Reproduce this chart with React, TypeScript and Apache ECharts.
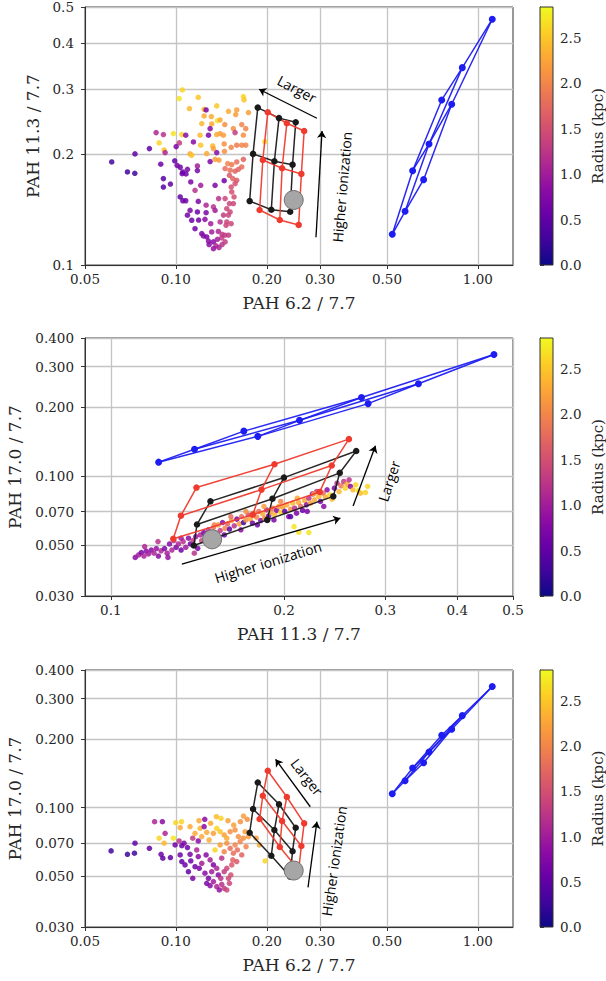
import React, { useEffect, useRef } from "react";
import * as echarts from "echarts";

// ---------- DATA ----------
const RADIUS_MAX = 2.84;
const PLASMA = ["#0d0887", "#41049d", "#6a00a8", "#8f0da4", "#b12a90", "#cc4778", "#e16462", "#f2844b", "#fca636", "#fcce25", "#f0f921"];

// model grids (rows x cols), each point = [PAH6.2/7.7, PAH11.3/7.7, PAH17.0/7.7]
const blueModel = [
  [[0.5206, 0.1211, 0.115], [0.608, 0.1801, 0.149], [0.759, 0.28, 0.207]],
  [[0.574, 0.1398, 0.131], [0.689, 0.2128, 0.175], [0.888, 0.3425, 0.2525]],
  [[0.661, 0.1703, 0.157], [0.819, 0.2727, 0.22], [1.116, 0.4633, 0.339]],
];
const blackModel = [
  [[0.1867, 0.267, 0.1287], [0.2195, 0.25, 0.1033], [0.2493, 0.2436, 0.0816]],
  [[0.1801, 0.2, 0.0985], [0.2119, 0.191, 0.0797], [0.2434, 0.187, 0.0644]],
  [[0.1755, 0.149, 0.0776], [0.207, 0.1412, 0.0615], [0.239, 0.1394, 0.0498]],
];
const redModel = [
  [[0.2015, 0.2593, 0.1449], [0.233, 0.2421, 0.1112], [0.2659, 0.2307, 0.0853]],
  [[0.194, 0.1925, 0.1126], [0.2247, 0.1828, 0.0873], [0.2603, 0.1765, 0.0679]],
  [[0.1893, 0.1409, 0.0891], [0.2208, 0.1324, 0.0672], [0.255, 0.1284, 0.0533]],
];
const observed = [0.2455, 0.15, 0.053];

// galaxy pixels: [x, y, radius (kpc)]
const pts62v113 = [
  [0.1051, 0.298, 2.6], [0.1025, 0.2824, 2.7], [0.1186, 0.2847, 2.5], [0.1673, 0.286, 2.6], [0.1681, 0.2801, 2.5],
  [0.1365, 0.2698, 2.5], [0.1109, 0.2653, 2.4], [0.124, 0.2642, 2.4], [0.1259, 0.2631, 0.7], [0.1493, 0.2609, 2.3],
  [0.159, 0.2631, 2.2], [0.1578, 0.2556, 2.2], [0.1739, 0.2588, 2.2], [0.124, 0.2534, 2.3], [0.131, 0.2524, 2.3],
  [0.1372, 0.2461, 2.7], [0.1401, 0.2472, 2.3], [0.1314, 0.2411, 2.3], [0.1218, 0.2416, 2.4], [0.1298, 0.2341, 0.8],
  [0.1452, 0.2401, 2.1], [0.1652, 0.2401, 2.0], [0.1703, 0.2341, 2.0], [0.155, 0.2341, 2.1], [0.1401, 0.227, 2.2],
  [0.1437, 0.2247, 2.2], [0.157, 0.2284, 1.3], [0.1673, 0.2247, 2.1], [0.086, 0.2284, 1.1], [0.0909, 0.2256, 1.2],
  [0.0981, 0.227, 2.7], [0.1046, 0.2256, 2.6], [0.1078, 0.2247, 0.8], [0.1202, 0.2247, 2.4], [0.1282, 0.2247, 0.7],
  [0.1365, 0.2256, 2.3], [0.088, 0.2142, 2.6], [0.1027, 0.2142, 1.3], [0.1143, 0.2155, 0.8], [0.1208, 0.2111, 2.5],
  [0.1324, 0.2102, 2.4], [0.1445, 0.2128, 2.1], [0.1524, 0.2084, 2.0], [0.159, 0.2111, 1.9], [0.1652, 0.2111, 2.0],
  [0.1703, 0.2111, 2.0], [0.0817, 0.2067, 0.5], [0.0914, 0.205, 2.5], [0.1002, 0.2093, 0.7], [0.0921, 0.2016, 1.1],
  [0.1114, 0.2, 2.3], [0.1128, 0.1983, 2.5], [0.1265, 0.2003, 2.3], [0.1331, 0.2067, 2.2], [0.1365, 0.2016, 0.8],
  [0.1448, 0.2033, 2.1], [0.0732, 0.2, 0.5], [0.0613, 0.1902, 0.3], [0.0891, 0.1875, 0.6], [0.0991, 0.1916, 0.5],
  [0.1009, 0.1863, 0.7], [0.1033, 0.184, 0.6], [0.1054, 0.1787, 0.6], [0.1092, 0.1817, 0.7], [0.1178, 0.1855, 1.0],
  [0.1178, 0.1803, 0.7], [0.1298, 0.1907, 0.7], [0.1348, 0.1933, 2.2], [0.1389, 0.1924, 2.2], [0.1485, 0.1882, 2.0],
  [0.1531, 0.1871, 1.9], [0.159, 0.1902, 1.8], [0.1652, 0.1844, 1.8], [0.1673, 0.1933, 1.7], [0.0691, 0.1787, 0.3],
  [0.0731, 0.1772, 0.3], [0.108, 0.1765, 0.6], [0.1049, 0.1768, 0.6], [0.1455, 0.1825, 1.8], [0.1512, 0.1806, 1.8],
  [0.157, 0.1795, 1.7], [0.161, 0.1817, 1.7], [0.1504, 0.175, 1.6], [0.1543, 0.1714, 1.7], [0.159, 0.1696, 1.6],
  [0.0909, 0.1714, 0.4], [0.0959, 0.1657, 0.5], [0.0909, 0.1626, 0.4], [0.112, 0.1679, 0.7], [0.1208, 0.1644, 1.0],
  [0.1348, 0.1644, 0.7], [0.1445, 0.1692, 0.6], [0.1524, 0.1626, 1.5], [0.157, 0.1661, 1.5], [0.1157, 0.1594, 1.2],
  [0.1531, 0.1577, 1.5], [0.1558, 0.1529, 1.5], [0.1033, 0.1529, 0.5], [0.1054, 0.1493, 0.6], [0.1078, 0.1493, 0.6],
  [0.1186, 0.1487, 0.7], [0.1259, 0.1452, 1.1], [0.1331, 0.1438, 1.2], [0.1385, 0.1513, 1.2], [0.1455, 0.1513, 1.4],
  [0.1504, 0.1467, 1.4], [0.155, 0.1467, 1.4], [0.1474, 0.1421, 1.4], [0.1512, 0.1392, 1.4], [0.1493, 0.1365, 1.4],
  [0.1114, 0.1406, 0.7], [0.1092, 0.1364, 0.6], [0.1178, 0.1392, 0.6], [0.1259, 0.1386, 0.7], [0.1348, 0.1406, 1.0],
  [0.1437, 0.1365, 1.3], [0.1401, 0.1308, 1.2], [0.1474, 0.1308, 1.4], [0.1466, 0.1281, 1.4], [0.1524, 0.1294, 1.4],
  [0.1128, 0.1322, 0.6], [0.1189, 0.1324, 0.6], [0.1248, 0.133, 0.8], [0.1304, 0.1294, 1.0], [0.1157, 0.1254, 0.6],
  [0.1218, 0.1216, 0.7], [0.1233, 0.1199, 0.8], [0.1265, 0.1191, 0.7], [0.1314, 0.1229, 1.0], [0.1382, 0.1233, 1.1],
  [0.1422, 0.1211, 1.3], [0.1452, 0.1204, 1.3], [0.1493, 0.1204, 1.3], [0.1418, 0.1184, 1.3], [0.1282, 0.1161, 0.8],
  [0.1288, 0.1136, 0.8], [0.1331, 0.1155, 0.8], [0.1372, 0.1174, 1.0], [0.1358, 0.1127, 1.1], [0.1389, 0.1115, 1.1],
  [0.1422, 0.1136, 1.2], [0.1455, 0.1155, 1.3], [0.1331, 0.1107, 0.9], [0.197, 0.216, 2.6],
];

const pts113v170 = [
  [0.1103, 0.0442, 0.8], [0.1118, 0.0453, 1.0], [0.113, 0.0464, 0.7], [0.1142, 0.0448, 1.1], [0.1152, 0.0471, 0.8],
  [0.1163, 0.0458, 1.0], [0.1176, 0.0476, 0.8], [0.1189, 0.0461, 1.1], [0.12, 0.0483, 0.9], [0.121, 0.0448, 0.8],
  [0.1223, 0.0472, 1.1], [0.124, 0.0483, 0.7], [0.1253, 0.0461, 1.0], [0.1265, 0.0506, 0.8], [0.1277, 0.0476, 1.1],
  [0.1287, 0.0523, 1.2], [0.1299, 0.0489, 0.7], [0.1311, 0.0506, 1.1], [0.1325, 0.0476, 0.6], [0.1336, 0.0518, 1.2],
  [0.135, 0.0489, 1.0], [0.1365, 0.0536, 0.8], [0.1375, 0.0506, 0.6], [0.139, 0.0523, 1.3], [0.1405, 0.0545, 0.9],
  [0.1416, 0.0484, 0.7], [0.1431, 0.0554, 1.1], [0.1439, 0.0523, 1.4], [0.1451, 0.0567, 0.7], [0.1464, 0.0536, 2.0],
  [0.1477, 0.0583, 1.2], [0.1493, 0.0548, 1.5], [0.1509, 0.0598, 1.8], [0.1523, 0.0563, 0.6], [0.1537, 0.0613, 2.1],
  [0.1549, 0.0579, 1.3], [0.1564, 0.0627, 0.8], [0.1579, 0.0592, 2.0], [0.1595, 0.0619, 1.7], [0.1608, 0.0587, 0.5],
  [0.1621, 0.064, 2.2], [0.1639, 0.0607, 1.2], [0.1656, 0.0649, 0.7], [0.1672, 0.0619, 2.2], [0.1688, 0.0666, 1.8],
  [0.1701, 0.0627, 0.3], [0.1717, 0.0644, 2.1], [0.1733, 0.0677, 1.5], [0.1747, 0.0649, 2.3], [0.1763, 0.0623, 0.6],
  [0.1775, 0.0689, 2.2], [0.1793, 0.0662, 2.0], [0.1808, 0.0701, 1.8], [0.1822, 0.064, 0.7], [0.1837, 0.0684, 2.3],
  [0.1851, 0.0655, 2.1], [0.1866, 0.0712, 1.2], [0.1881, 0.0671, 0.6], [0.1896, 0.0694, 2.2], [0.1912, 0.0724, 1.9],
  [0.1927, 0.0677, 2.4], [0.1943, 0.0708, 0.8], [0.1959, 0.0737, 2.3], [0.1974, 0.0694, 2.6], [0.199, 0.0732, 2.2],
  [0.2006, 0.0701, 0.5], [0.2022, 0.0749, 2.3], [0.2038, 0.0666, 0.7], [0.2054, 0.0717, 2.1], [0.2071, 0.0762, 2.4],
  [0.2087, 0.0724, 1.2], [0.2103, 0.0689, 0.7], [0.212, 0.0767, 2.3], [0.2138, 0.0737, 1.8], [0.2154, 0.0708, 0.6],
  [0.2172, 0.0782, 2.3], [0.2188, 0.0749, 0.8], [0.2209, 0.0801, 1.2], [0.2224, 0.0762, 2.2], [0.2241, 0.0837, 0.8],
  [0.2259, 0.0788, 2.3], [0.2278, 0.0856, 1.3], [0.2299, 0.0814, 2.4], [0.2314, 0.0775, 0.7], [0.2339, 0.0842, 1.8],
  [0.2361, 0.0809, 2.3], [0.2376, 0.0871, 0.8], [0.2401, 0.0828, 2.6], [0.2424, 0.0793, 2.4], [0.2447, 0.0886, 0.7],
  [0.2473, 0.0931, 1.2], [0.2493, 0.0856, 2.4], [0.2513, 0.0907, 1.9], [0.254, 0.0947, 1.3], [0.2557, 0.0886, 2.6],
  [0.2574, 0.0925, 2.3], [0.2595, 0.0963, 1.2], [0.2609, 0.0901, 0.8], [0.2636, 0.0871, 2.4], [0.2665, 0.0916, 2.6],
  [0.2693, 0.0865, 2.7], [0.2715, 0.0842, 2.4], [0.277, 0.0848, 2.6], [0.2795, 0.0901, 2.6], [0.2082, 0.0602, 2.7],
  [0.2122, 0.0569, 2.7], [0.2209, 0.0567, 2.7],
  [0.1473, 0.0518, 0.7], [0.1575, 0.0554, 0.6], [0.1683, 0.0583, 0.8], [0.1798, 0.0613, 0.6], [0.1921, 0.0644, 0.7],
  [0.2054, 0.0666, 0.5], [0.2195, 0.0701, 0.7], [0.2345, 0.0737, 0.8], [0.1513, 0.0613, 2.0], [0.1617, 0.0666, 1.8],
  [0.1717, 0.0701, 2.1], [0.1846, 0.0737, 2.2], [0.1974, 0.0775, 2.0], [0.2109, 0.0801, 2.3], [0.2253, 0.0837, 2.2],
  [0.1208, 0.0518, 1.2], [0.1145, 0.0493, 1.1], [0.1325, 0.0536, 1.0], [0.1257, 0.0442, 0.9], [0.1397, 0.0461, 1.2],
];

const pts62v170 = [
  [0.061, 0.0646, 0.3], [0.0691, 0.0624, 0.3], [0.0729, 0.0631, 0.3], [0.0732, 0.0698, 0.5], [0.0817, 0.0663, 0.5],
  [0.088, 0.0734, 2.6], [0.0914, 0.0698, 2.4], [0.0921, 0.0771, 1.1], [0.0981, 0.0734, 2.7], [0.0994, 0.0686, 0.6],
  [0.0893, 0.0624, 0.6], [0.0905, 0.06, 0.5], [0.0959, 0.0604, 0.5], [0.1033, 0.0817, 2.3], [0.1025, 0.0714, 1.2],
  [0.1046, 0.0681, 0.6], [0.1064, 0.0698, 0.7], [0.1092, 0.0668, 0.6], [0.1114, 0.0825, 2.3], [0.1137, 0.0734, 1.3],
  [0.1157, 0.0771, 2.3], [0.1186, 0.0714, 0.8], [0.1218, 0.0746, 2.3], [0.1202, 0.0811, 2.4], [0.124, 0.0825, 0.8],
  [0.1265, 0.0779, 2.3], [0.1288, 0.0721, 2.3], [0.1331, 0.0771, 2.2], [0.1348, 0.0652, 2.6], [0.1365, 0.0811, 2.6],
  [0.1033, 0.062, 0.6], [0.1046, 0.058, 0.5], [0.1072, 0.0561, 0.6], [0.1114, 0.0624, 0.7], [0.112, 0.0584, 0.6],
  [0.1172, 0.0652, 1.1], [0.1186, 0.061, 0.8], [0.1157, 0.0551, 0.6], [0.11, 0.0524, 0.5], [0.1137, 0.049, 0.7],
  [0.1195, 0.0542, 0.7], [0.1218, 0.057, 1.0], [0.1259, 0.062, 0.8], [0.1298, 0.059, 1.0], [0.1331, 0.0561, 0.7],
  [0.1248, 0.0516, 0.8], [0.1282, 0.049, 0.7], [0.1314, 0.0524, 1.0], [0.1365, 0.0542, 1.1], [0.1382, 0.0507, 0.8],
  [0.1265, 0.0466, 0.7], [0.1298, 0.0455, 0.8], [0.1331, 0.0474, 1.0], [0.1365, 0.0451, 1.1], [0.1392, 0.0436, 0.9],
  [0.1418, 0.0461, 1.2], [0.1445, 0.0443, 1.3], [0.1474, 0.0436, 1.4], [0.1408, 0.049, 1.2], [0.1445, 0.0524, 1.3],
  [0.1474, 0.0542, 1.4], [0.1493, 0.049, 1.4], [0.152, 0.0507, 1.5], [0.1531, 0.0561, 1.6], [0.1418, 0.06, 1.2],
  [0.1445, 0.0641, 2.0], [0.1401, 0.0686, 2.2], [0.1474, 0.0698, 2.1], [0.1512, 0.0663, 1.8], [0.155, 0.0631, 1.8],
  [0.157, 0.0686, 2.0], [0.1598, 0.0652, 1.8], [0.1632, 0.0709, 2.0], [0.1673, 0.0734, 2.1], [0.1707, 0.0674, 2.0],
  [0.1652, 0.062, 1.7], [0.1543, 0.059, 1.7], [0.159, 0.058, 1.6], [0.1504, 0.0466, 1.4], [0.1445, 0.0759, 2.2],
  [0.1512, 0.0784, 2.1], [0.157, 0.0798, 2.1], [0.161, 0.0746, 2.1], [0.1695, 0.0784, 2.2], [0.1739, 0.0746, 2.2],
  [0.1401, 0.0784, 2.5], [0.1474, 0.0734, 2.3], [0.1974, 0.0584, 2.6], [0.1891, 0.0686, 2.3], [0.1844, 0.0734, 2.2],
  [0.085, 0.0867, 1.1], [0.0902, 0.0867, 0.8], [0.0999, 0.0858, 2.6], [0.1044, 0.0867, 2.6], [0.1192, 0.0876, 2.3],
  [0.1246, 0.0888, 0.8], [0.1303, 0.0853, 2.3], [0.1362, 0.0912, 2.4], [0.141, 0.0897, 2.6], [0.1487, 0.0876, 2.2],
  [0.1554, 0.0838, 2.2], [0.1635, 0.0867, 2.1], [0.1674, 0.0918, 2.2], [0.1723, 0.0888, 2.1],
];

// axis ticks
const TICKS_62 = [0.05, 0.1, 0.2, 0.3, 0.5, 1.0];
const TICKS_113_Y = [0.1, 0.2, 0.3, 0.4, 0.5];
const TICKS_113_X = [0.1, 0.2, 0.3, 0.4, 0.5];
const TICKS_170 = [0.03, 0.05, 0.07, 0.1, 0.2, 0.3, 0.4];
const TICKS_CB = [0, 0.5, 1.0, 1.5, 2.0, 2.5];

// annotation arrows (data coordinates): [start, end]
const ARROWS = [
  { larger: [[0.293, 0.2498], [0.1885, 0.2994]], ion: [[0.291, 0.1189], [0.3047, 0.2307]] },
  { larger: [[0.2637, 0.0741], [0.2884, 0.1355]], ion: [[0.1329, 0.0413], [0.2506, 0.0655]] },
  { larger: [[0.2786, 0.1008], [0.2138, 0.1626]], ion: [[0.2738, 0.0447], [0.293, 0.0867]] },
];

// ---------- LAYOUT ----------
const SERIF = "DejaVu Serif";
const SANS = "Open Sans";
const PANEL_TOPS = [7, 338, 670];
const PANEL_HEIGHTS = [258, 258, 257];
const PLOT_LEFT = 85;
const PLOT_WIDTH = 428;
const CB_LEFT = 540;
const CB_WIDTH = 13;
const Y_NAME_GAP = [44, 62, 62];
const LABEL_POS = [
  { larger: [297, 89, -28], ion: [342, 187, 85] },
  { larger: [389, 481, 72], ion: [268, 562, 17] },
  { larger: [307, 777, -52], ion: [334, 861, 82] },
];

const PANELS = [
  { xi: 0, yi: 1, pts: pts62v113, xMin: 0.05, xMax: 1.307, yMin: 0.1, yMax: 0.5, xTicks: TICKS_62, xDec: 2, yTicks: TICKS_113_Y, yDec: 1, xName: "PAH 6.2 / 7.7", yName: "PAH 11.3 / 7.7" },
  { xi: 1, yi: 2, pts: pts113v170, xMin: 0.0902, xMax: 0.5, yMin: 0.03, yMax: 0.4, xTicks: TICKS_113_X, xDec: 1, yTicks: TICKS_170, yDec: 3, xName: "PAH 11.3 / 7.7", yName: "PAH 17.0 / 7.7" },
  { xi: 0, yi: 2, pts: pts62v170, xMin: 0.05, xMax: 1.307, yMin: 0.03, yMax: 0.4, xTicks: TICKS_62, xDec: 2, yTicks: TICKS_170, yDec: 3, xName: "PAH 6.2 / 7.7", yName: "PAH 17.0 / 7.7" },
];

const MODELS = [
  { grid: blueModel, color: "#1d1df2", dot: 7 },
  { grid: blackModel, color: "#1a1a1a", dot: 6.5 },
  { grid: redModel, color: "#ef3a2d", dot: 6.5 },
];

function polylines(grid: number[][][], xi: number, yi: number) {
  const out: any[] = [];
  grid.forEach((row) => out.push({ coords: row.map((p) => [p[xi], p[yi]]) }));
  for (let c = 0; c < grid[0].length; c++) {
    out.push({ coords: grid.map((row) => [row[c][xi], row[c][yi]]) });
  }
  return out;
}

function buildOption() {
  const grids: any[] = [];
  const xAxes: any[] = [];
  const yAxes: any[] = [];
  const series: any[] = [];
  const graphics: any[] = [];
  const scatterIdx: number[] = [];

  const stops = PLASMA.map((c, i) => ({ offset: i / (PLASMA.length - 1), color: c }));

  PANELS.forEach((p, i) => {
    const top = PANEL_TOPS[i];
    const h = PANEL_HEIGHTS[i];
    const g = 2 * i;
    grids.push({ left: PLOT_LEFT, top, width: PLOT_WIDTH, height: h, show: true, borderColor: "#333", borderWidth: 1, backgroundColor: "#fff", containLabel: false, outerBoundsMode: "none" });
    grids.push({ left: CB_LEFT, top, width: CB_WIDTH, height: h, show: false, containLabel: false, outerBoundsMode: "none" });

    const tickText = { fontFamily: SERIF, fontSize: 13.5, color: "#262626" };
    xAxes.push({
      gridIndex: g, type: "log", logBase: 10, min: p.xMin, max: p.xMax,
      name: p.xName, nameLocation: "middle", nameGap: 29,
      nameTextStyle: { fontFamily: SERIF, fontSize: 17, color: "#262626" },
      axisLine: { show: true, onZero: false, lineStyle: { color: "#333", width: 1 } },
      axisTick: { show: true, inside: false, length: 4, customValues: p.xTicks, lineStyle: { color: "#333" } },
      axisLabel: { ...tickText, margin: 7, customValues: p.xTicks, formatter: (v: number) => Number(v).toFixed(p.xDec) },
      splitLine: { show: true, lineStyle: { color: "#c4c4c4", width: 1.3 } },
      minorTick: { show: false }, minorSplitLine: { show: false },
    });
    yAxes.push({
      gridIndex: g, type: "log", logBase: 10, min: p.yMin, max: p.yMax,
      name: p.yName, nameLocation: "middle", nameGap: Y_NAME_GAP[i], nameRotate: 90,
      nameTextStyle: { fontFamily: SERIF, fontSize: 17, color: "#262626" },
      axisLine: { show: true, onZero: false, lineStyle: { color: "#333", width: 1 } },
      axisTick: { show: true, inside: false, length: 4, customValues: p.yTicks, lineStyle: { color: "#333" } },
      axisLabel: { ...tickText, margin: 11, customValues: p.yTicks, formatter: (v: number) => Number(v).toFixed(p.yDec) },
      splitLine: { show: true, lineStyle: { color: "#c4c4c4", width: 1.3 } },
      minorTick: { show: false }, minorSplitLine: { show: false },
    });
    // colorbar axes
    xAxes.push({ gridIndex: g + 1, type: "value", show: false, min: 0, max: 1 });
    yAxes.push({
      gridIndex: g + 1, type: "value", min: 0, max: RADIUS_MAX, position: "right",
      name: "Radius (kpc)", nameLocation: "middle", nameGap: 37, nameRotate: 90,
      nameTextStyle: { fontFamily: SERIF, fontSize: 15, color: "#262626" },
      axisLine: { show: true, lineStyle: { color: "#333" } },
      axisTick: { show: true, inside: false, length: 4, customValues: TICKS_CB, lineStyle: { color: "#333" } },
      axisLabel: { ...tickText, margin: 7, customValues: TICKS_CB, formatter: (v: number) => Number(v).toFixed(1) },
      splitLine: { show: false },
    });
    graphics.push({
      type: "rect", z: 10,
      shape: { x: CB_LEFT, y: top, width: CB_WIDTH, height: h },
      style: { fill: new echarts.graphic.LinearGradient(0, 1, 0, 0, stops), stroke: "#333", lineWidth: 1 },
    });

    // galaxies
    scatterIdx.push(series.length);
    series.push({
      type: "scatter", xAxisIndex: g, yAxisIndex: g, data: p.pts, symbolSize: 5.5,
      itemStyle: { opacity: 0.85 }, z: 2, silent: true,
    });

    // models
    MODELS.forEach((m) => {
      series.push({
        type: "lines", coordinateSystem: "cartesian2d", xAxisIndex: g, yAxisIndex: g, polyline: true,
        data: polylines(m.grid, p.xi, p.yi), symbol: "none",
        lineStyle: { color: m.color, width: 1.5, opacity: 0.95, curveness: 0 }, z: 3, silent: true,
      });
      series.push({
        type: "scatter", xAxisIndex: g, yAxisIndex: g, symbolSize: m.dot,
        data: m.grid.flat().map((q) => [q[p.xi], q[p.yi]]),
        itemStyle: { color: m.color, opacity: 1 }, z: 4, silent: true,
      });
    });

    // observed point
    series.push({
      type: "scatter", xAxisIndex: g, yAxisIndex: g, symbolSize: 19,
      data: [[observed[p.xi], observed[p.yi]]],
      itemStyle: { color: "#a6a6a6", borderColor: "#6f6f6f", borderWidth: 1, opacity: 1 }, z: 5, silent: true,
    });

    // arrows
    const a = ARROWS[i];
    series.push({
      type: "lines", coordinateSystem: "cartesian2d", xAxisIndex: g, yAxisIndex: g,
      data: [{ coords: a.larger }, { coords: a.ion }],
      symbol: ["none", "arrow"], symbolSize: 7,
      lineStyle: { color: "#000", width: 1.3, opacity: 1, curveness: 0 }, z: 6, silent: true,
    });

    const lp = LABEL_POS[i];
    [["Larger", lp.larger], ["Higher ionization", lp.ion]].forEach(([txt, pos]: any) => {
      graphics.push({
        type: "text", x: pos[0], y: pos[1], rotation: (pos[2] * Math.PI) / 180, z: 20,
        style: { text: txt, fill: "#000", font: `14px "${SANS}"`, align: "center", verticalAlign: "middle", textAlign: "center", textVerticalAlign: "middle" },
      });
    });
  });

  return {
    animation: false,
    backgroundColor: "#fff",
    textStyle: { fontFamily: SERIF },
    grid: grids,
    xAxis: xAxes,
    yAxis: yAxes,
    visualMap: [{
      type: "continuous", show: false, min: 0, max: RADIUS_MAX, dimension: 2,
      seriesIndex: scatterIdx, inRange: { color: PLASMA },
    }],
    series,
    graphic: graphics,
  };
}

export default function App() {
  const ref = useRef<HTMLDivElement>(null);
  useEffect(() => {
    const chart = echarts.init(ref.current!, null, { renderer: "svg" });
    chart.setOption(buildOption() as any);
    return () => chart.dispose();
  }, []);
  return <div ref={ref} style={{ position: "absolute", left: 0, top: 0, width: 606, height: 981, background: "#fff" }} />;
}
